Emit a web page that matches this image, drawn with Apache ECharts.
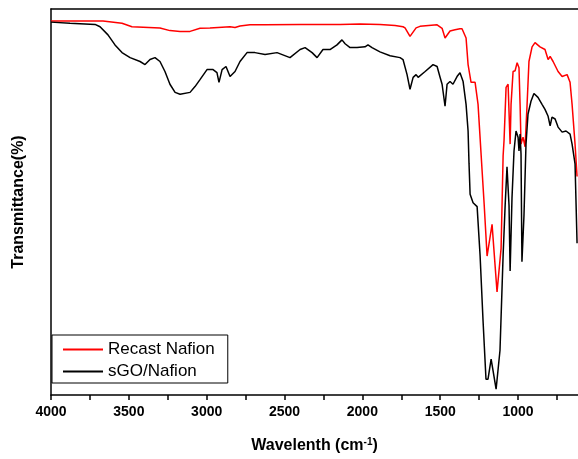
<!DOCTYPE html>
<html>
<head>
<meta charset="utf-8">
<script src="https://cdn.jsdelivr.net/npm/echarts@6/dist/echarts.min.js"></script>
<style>
  html, body { margin: 0; padding: 0; background: #fff; }
  #chart { width: 578px; height: 459px; }
</style>
</head>
<body>
<div id="chart"></div>
<script>
// wavenumber (cm-1) / transmittance pairs
const recastWn = [4000, 3666, 3544, 3480, 3300, 3236, 3171, 3107, 3043, 2979, 2850, 2818, 2786, 2722, 2625, 2400, 2143, 2015, 1887, 1790, 1739, 1726, 1694, 1655, 1630, 1520, 1488, 1469, 1437, 1405, 1373, 1360, 1334, 1321, 1302, 1276, 1257, 1231, 1218, 1199, 1167, 1135, 1109, 1096, 1090, 1077, 1064, 1051, 1045, 1032, 1019, 1006, 994, 987, 981, 968, 955, 942, 930, 910, 891, 859, 827, 807, 794, 775, 743, 717, 685, 666, 653, 634, 621];
const recastT = [96.9, 96.9, 96.3, 95.4, 95.1, 94.4, 94.2, 94.2, 95.0, 95.1, 95.4, 95.2, 95.6, 95.9, 95.9, 96.0, 96.0, 96.1, 96.0, 95.7, 95.4, 95.1, 92.9, 95.1, 95.5, 95.9, 95.0, 92.5, 94.3, 94.6, 94.9, 94.9, 92.5, 85.6, 81.0, 81.0, 75.3, 58.1, 49.6, 36.0, 44.2, 26.7, 38.0, 62.0, 66.0, 79.7, 80.5, 65.0, 75.3, 83.8, 84.0, 86.1, 84.8, 75.3, 65.0, 66.8, 64.3, 75.3, 86.4, 90.2, 91.3, 90.2, 89.5, 86.9, 87.7, 86.4, 83.8, 82.5, 83.0, 81.0, 75.3, 65.0, 56.6];

const sgoWn = [4000, 3878, 3717, 3685, 3634, 3589, 3544, 3492, 3428, 3396, 3364, 3332, 3300, 3268, 3236, 3203, 3171, 3107, 3075, 3043, 2998, 2959, 2934, 2921, 2901, 2876, 2850, 2818, 2786, 2741, 2690, 2625, 2548, 2465, 2400, 2368, 2323, 2291, 2253, 2208, 2163, 2131, 2111, 2079, 2034, 1983, 1964, 1938, 1887, 1822, 1758, 1739, 1713, 1694, 1674, 1655, 1642, 1597, 1546, 1520, 1501, 1488, 1469, 1456, 1437, 1418, 1392, 1373, 1353, 1334, 1321, 1315, 1308, 1289, 1263, 1244, 1225, 1206, 1193, 1173, 1141, 1116, 1096, 1083, 1071, 1058, 1051, 1039, 1026, 1013, 1000, 994, 987, 981, 975, 962, 949, 936, 917, 898, 872, 846, 827, 807, 794, 782, 762, 743, 717, 692, 666, 653, 634, 621];
const sgoT = [96.6, 96.3, 96.0, 95.4, 93.3, 90.7, 88.7, 87.4, 86.4, 85.6, 86.9, 87.4, 86.4, 83.8, 80.5, 78.4, 77.9, 78.4, 79.9, 81.7, 84.3, 84.3, 83.5, 81.0, 84.3, 85.1, 82.5, 83.8, 86.4, 88.7, 88.7, 88.2, 88.7, 87.4, 89.5, 90.0, 88.7, 87.4, 89.5, 89.5, 90.7, 92.0, 91.0, 90.0, 90.0, 90.2, 90.7, 90.0, 88.9, 87.9, 87.4, 86.9, 83.0, 79.2, 82.3, 83.0, 82.3, 83.8, 85.6, 85.1, 82.3, 80.5, 74.8, 80.5, 81.2, 80.5, 82.5, 83.5, 81.2, 75.3, 68.4, 60.0, 52.0, 49.8, 48.8, 36.2, 19.3, 4.1, 4.1, 9.3, 1.5, 11.6, 36.2, 49.1, 59.1, 49.1, 32.1, 51.0, 63.2, 68.4, 66.8, 63.2, 67.6, 62.5, 34.5, 46.5, 65.0, 72.8, 76.1, 78.1, 77.1, 75.3, 74.0, 72.2, 69.7, 72.0, 71.5, 69.4, 68.1, 68.4, 67.6, 65.0, 59.9, 39.3];

const majorTicks = [1000, 1500, 2000, 2500, 3000, 3500, 4000];
const allTicks = [750, 1000, 1250, 1500, 1750, 2000, 2250, 2500, 2750, 3000, 3250, 3500, 3750, 4000];

const font = 'Liberation Sans, Arial, sans-serif';
const pairs = (xs, ys) => xs.map((x, i) => [x, ys[i]]);

const chart = echarts.init(document.getElementById('chart'));
chart.setOption({
    animation: false,
    backgroundColor: '#fff',
    grid: { left: 51, top: 9, right: 0, bottom: 61 },
    legend: {
        orient: 'vertical',
        left: 52, top: 335,
        padding: [6, 13, 3, 11],
        itemGap: 5,
        itemWidth: 40, itemHeight: 2,
        itemTextGap: 7,
        icon: 'rect',
        borderColor: '#000', borderWidth: 1,
        textStyle: { fontFamily: font, fontSize: 17, color: '#000' },
        data: ['Recast Nafion', 'sGO/Nafion']
    },
    xAxis: [{
        type: 'value',
        inverse: true,
        min: 615, max: 4000,
        axisLine: { lineStyle: { color: '#000', width: 1.5 } },
        axisTick: { customValues: allTicks, length: 5, lineStyle: { color: '#000', width: 1.5 } },
        axisLabel: {
            customValues: majorTicks, margin: 10,
            formatter: v => String(v),
            fontFamily: font, fontSize: 14, fontWeight: 'bold', color: '#000'
        },
        splitLine: { show: false },
        name: 'Wavelenth (cm{sup|-1})',
        nameLocation: 'middle',
        nameGap: 42,
        nameTextStyle: {
            fontFamily: font, fontSize: 16, fontWeight: 'bold', color: '#000',
            rich: { sup: { fontFamily: font, fontSize: 10, fontWeight: 'bold', color: '#000', verticalAlign: 'top', padding: [0, 0, 8, 0] } }
        }
    }, {
        type: 'value',
        position: 'top',
        inverse: true,
        min: 615, max: 4000,
        axisLine: { show: true, lineStyle: { color: '#000', width: 1.5 } },
        axisTick: { show: false },
        axisLabel: { show: false },
        splitLine: { show: false }
    }],
    yAxis: {
        type: 'value',
        min: 0, max: 100,
        axisLine: { show: true, lineStyle: { color: '#000', width: 1.5 } },
        axisTick: { show: false },
        axisLabel: { show: false },
        splitLine: { show: false },
        name: 'Transmittance(%)',
        nameLocation: 'middle',
        nameGap: 24,
        nameTextStyle: { fontFamily: font, fontSize: 16, fontWeight: 'bold', color: '#000' }
    },
    series: [{
        name: 'Recast Nafion',
        type: 'line',
        data: pairs(recastWn, recastT),
        showSymbol: false, symbol: 'none',
        color: '#ff0000',
        lineStyle: { color: '#ff0000', width: 1.5 }
    }, {
        name: 'sGO/Nafion',
        type: 'line',
        data: pairs(sgoWn, sgoT),
        showSymbol: false, symbol: 'none',
        color: '#000',
        lineStyle: { color: '#000', width: 1.5 }
    }]
});
</script>
</body>
</html>
